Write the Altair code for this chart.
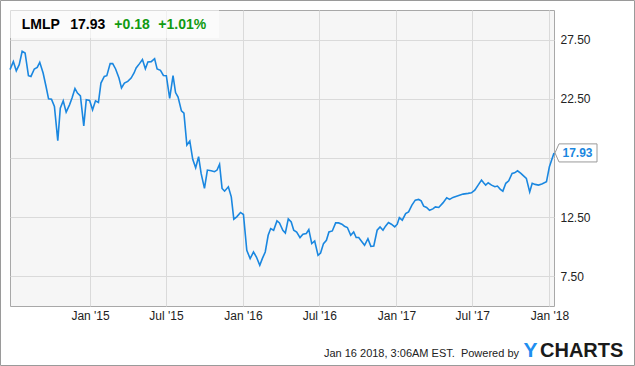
import altair as alt
import pandas as pd

# ---------------- data ----------------
dates = [
    "2014-06-24", "2014-07-02", "2014-07-09", "2014-07-16", "2014-07-23", "2014-07-30",
    "2014-08-07", "2014-08-13", "2014-08-21", "2014-08-28", "2014-09-03", "2014-09-11",
    "2014-09-18", "2014-09-24", "2014-10-01", "2014-10-08", "2014-10-16", "2014-10-22",
    "2014-10-29", "2014-11-05", "2014-11-13", "2014-11-19", "2014-11-26", "2014-12-02",
    "2014-12-09", "2014-12-17", "2014-12-23", "2014-12-31", "2015-01-07", "2015-01-14",
    "2015-01-21", "2015-01-27", "2015-02-04", "2015-02-10", "2015-02-18", "2015-02-24",
    "2015-03-03", "2015-03-11", "2015-03-17", "2015-03-24", "2015-04-01", "2015-04-09",
    "2015-04-16", "2015-04-21", "2015-04-29", "2015-05-06", "2015-05-13", "2015-05-19",
    "2015-05-27", "2015-06-04", "2015-06-10", "2015-06-18", "2015-06-25", "2015-07-02",
    "2015-07-10", "2015-07-18", "2015-07-24", "2015-07-30", "2015-08-07", "2015-08-13",
    "2015-08-20", "2015-08-27", "2015-09-03", "2015-09-10", "2015-09-17", "2015-09-23",
    "2015-10-01", "2015-10-08", "2015-10-17", "2015-10-25", "2015-10-31", "2015-11-06",
    "2015-11-12", "2015-11-18", "2015-11-27", "2015-12-04", "2015-12-10", "2015-12-17",
    "2015-12-26", "2016-01-02", "2016-01-10", "2016-01-18", "2016-01-26", "2016-02-02",
    "2016-02-10", "2016-02-16", "2016-02-23", "2016-03-01", "2016-03-07", "2016-03-14",
    "2016-03-22", "2016-03-28", "2016-04-05", "2016-04-11", "2016-04-18", "2016-04-25",
    "2016-05-01", "2016-05-08", "2016-05-16", "2016-05-23", "2016-05-31", "2016-06-06",
    "2016-06-13", "2016-06-20", "2016-06-28", "2016-07-04", "2016-07-11", "2016-07-18",
    "2016-07-24", "2016-08-01", "2016-08-09", "2016-08-16", "2016-08-24", "2016-08-30",
    "2016-09-06", "2016-09-14", "2016-09-21", "2016-09-27", "2016-10-03", "2016-10-11",
    "2016-10-17", "2016-10-25", "2016-11-01", "2016-11-08", "2016-11-16", "2016-11-23",
    "2016-11-30", "2016-12-06", "2016-12-13", "2016-12-20", "2016-12-28", "2017-01-03",
    "2017-01-08", "2017-01-15", "2017-01-23", "2017-01-30", "2017-02-07", "2017-02-15",
    "2017-02-23", "2017-03-01", "2017-03-07", "2017-03-14", "2017-03-21", "2017-03-29",
    "2017-04-04", "2017-04-12", "2017-04-22", "2017-05-01", "2017-05-08", "2017-05-16",
    "2017-05-28", "2017-06-09", "2017-06-21", "2017-06-29", "2017-07-07", "2017-07-15",
    "2017-07-23", "2017-07-28", "2017-08-02", "2017-08-08", "2017-08-16", "2017-08-24",
    "2017-08-30", "2017-09-06", "2017-09-12", "2017-09-19", "2017-09-26", "2017-10-04",
    "2017-10-10", "2017-10-17", "2017-10-25", "2017-11-01", "2017-11-07", "2017-11-15",
    "2017-11-21", "2017-11-28", "2017-12-06", "2017-12-14", "2017-12-25", "2018-01-01",
    "2018-01-12",
]
prices = [
    24.96, 25.64, 24.87, 25.38, 26.51, 26.37,
    24.45, 24.39, 25.02, 25.15, 25.58, 24.68,
    23.54, 22.50, 22.47, 21.85, 18.97, 21.71,
    22.33, 21.37, 21.99, 22.56, 23.37, 22.98,
    22.75, 20.21, 22.42, 22.36, 21.57, 22.33,
    22.19, 23.83, 24.39, 24.45, 25.47, 25.47,
    25.02, 24.25, 23.41, 23.83, 23.97, 24.25,
    24.68, 25.10, 25.47, 25.81, 25.04, 25.61,
    25.64, 25.89, 25.02, 24.90, 24.47, 24.45,
    22.53, 24.45, 23.03, 22.64, 21.48, 21.29,
    18.60, 18.94, 17.39, 16.68, 17.61, 16.20,
    14.93, 16.48, 16.42, 16.34, 16.48, 16.97,
    14.93, 14.70, 15.07, 14.22, 12.33, 12.53,
    12.90, 12.73, 9.70, 9.00, 9.56, 9.14,
    8.43, 9.00, 9.56, 10.97, 11.54, 11.40,
    12.19, 12.02, 11.40, 11.17, 12.36, 12.10,
    11.40, 11.25, 10.78, 11.06, 11.12, 11.46,
    10.27, 10.49, 9.28, 9.47, 10.27, 10.55,
    11.25, 11.34, 12.02, 12.02, 11.91, 11.74,
    11.63, 10.97, 11.25, 10.78, 10.78, 10.41,
    10.13, 10.69, 10.04, 10.07, 11.40, 11.68,
    11.40, 11.74, 12.05, 11.91, 11.68, 11.91,
    12.47, 12.25, 12.81, 12.95, 13.52, 13.94,
    14.00, 13.88, 13.43, 13.32, 13.09, 13.20,
    13.37, 13.32, 13.71, 14.14, 14.00, 14.17,
    14.31, 14.45, 14.51, 14.56, 14.79, 15.21,
    15.64, 15.41, 15.21, 15.41, 15.21, 15.07,
    15.13, 14.85, 14.70, 15.36, 15.58, 16.20,
    16.25, 16.42, 16.20, 15.97, 15.78, 14.64,
    15.36, 15.27, 15.21, 15.30, 15.49, 16.76,
    17.93,
]
x_domain = ["2014-06-24", "2018-01-12"]
x_tick_dates = ["2015-01-01", "2015-07-01", "2016-01-01", "2016-07-01",
                "2017-01-01", "2017-07-01", "2018-01-01"]
x_tick_format = "%b '%y"
y_domain = [5, 30]
y_ticks = [7.5, 12.5, 17.5, 22.5, 27.5]

ticker = "LMLP"
last_price_text = "17.93"
change_text = "+0.18"
change_pct_text = "+1.01%"
footer_text = "Jan 16 2018, 3:06AM EST.\u00a0\u00a0Powered by"
logo_y = "Y"
logo_rest = "CHARTS"

# ---------------- styling ----------------
FONT = "Liberation Sans"
LINE = "#1a87e0"
GREEN = "#119a11"
TEXT = "#222222"


def to_dt(s):
    y, m, d = (int(p) for p in s.split("-"))
    return alt.DateTime(year=y, month=m, date=d, utc=True)


df = pd.DataFrame({"date": dates, "price": prices})
last_df = df.tail(1)
one = pd.DataFrame({"k": [0]})

x_enc = alt.X(
    "date:T",
    scale=alt.Scale(type="utc", domain=[to_dt(s) for s in x_domain]),
    axis=alt.Axis(
        values=[to_dt(s) for s in x_tick_dates],
        labelExpr='utcFormat(datum.value, "' + x_tick_format + '")',
        title=None,
        labelPadding=4,
    ),
)
y_enc = alt.Y(
    "price:Q",
    scale=alt.Scale(domain=y_domain, nice=False, zero=False),
    axis=alt.Axis(
        orient="right",
        values=y_ticks,
        format=".2f",
        labelExpr="datum.value == 17.5 ? '' : datum.label",
        title=None,
        labelPadding=6,
    ),
)

title_box = alt.Chart(one).mark_rect(fill="white", opacity=0.6).encode(
    x=alt.value(0), x2=alt.value(209), y=alt.value(0), y2=alt.value(28)
)

line = alt.Chart(df).mark_line(color=LINE, strokeWidth=1.6).encode(x=x_enc, y=y_enc)

callout_path = "M-1,0 L-0.81,-0.43 L1,-0.43 L1,0.43 L-0.81,0.43 Z"
callout = alt.Chart(last_df).mark_point(
    shape=callout_path, size=1764, filled=True, fill="white", stroke="#9a9a9a",
    strokeWidth=1, opacity=1, xOffset=22,
).encode(x=x_enc, y=y_enc)
callout_text = alt.Chart(last_df).mark_text(
    font=FONT, fontSize=12, fontWeight="bold", color=LINE, align="center",
    baseline="middle", xOffset=23.5, yOffset=0.5,
).encode(x=x_enc, y=y_enc, text=alt.value(last_price_text))


def label(txt, x, y, color=TEXT, size=14, weight="bold", align="left"):
    return alt.Chart(one).mark_text(
        font=FONT, fontSize=size, fontWeight=weight, color=color,
        align=align, baseline="alphabetic",
    ).encode(x=alt.value(x), y=alt.value(y), text=alt.value(txt))


t1 = label(ticker, 11.7, 18.5, color="#000000")
t2 = label(last_price_text, 60.3, 18.5, color="#000000")
t3 = label(change_text, 104.3, 18.5, color=GREEN)
t4 = label(change_pct_text, 148.3, 18.5, color=GREEN)

f1 = label(footer_text, 509, 346.5, color=TEXT, size=11, weight="normal", align="right")
f2 = label(logo_y, 520.5, 346.7, color="#1f8ff0", size=21, weight="bold", align="center")
f3 = label(logo_rest, 530, 346.7, color="#1a1a1a", size=20, weight="bold")

outer = alt.Chart(one).mark_rect(fill=None, stroke="#9a9a9a", strokeWidth=1).encode(
    x=alt.value(-9.5), x2=alt.value(624.5), y=alt.value(-9.5), y2=alt.value(355.5)
)

chart = alt.layer(
    title_box, line, callout, callout_text, t1, t2, t3, t4, f1, f2, f3, outer
).properties(
    width=544,
    height=296,
    autosize=alt.AutoSizeParams(type="none"),
    padding={"left": 10, "top": 10, "right": 81, "bottom": 60},
    background="white",
).configure_view(
    fill="#f6f6f6", stroke="#a8a8a8", strokeWidth=1
).configure_axis(
    grid=True, gridColor="#dadada", gridWidth=1, domain=False, ticks=False,
    labelFont=FONT, labelFontSize=12, labelColor=TEXT,
)

chart.save("out.html", embed_options={"renderer": "svg", "actions": False})
